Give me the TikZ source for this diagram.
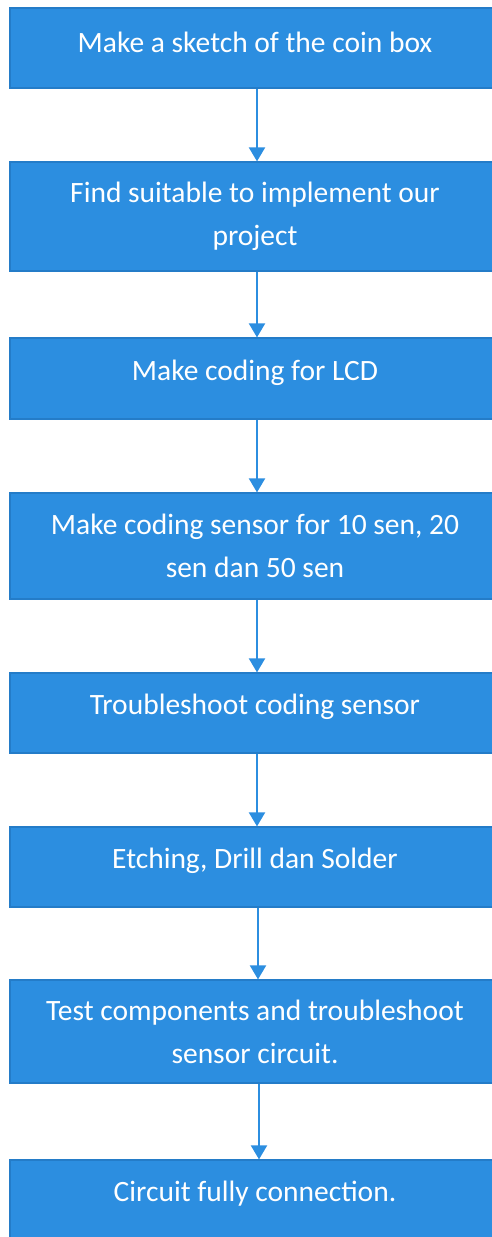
\documentclass[tikz,border=0pt]{standalone}
\usepackage{fontspec}
\setmainfont{Carlito}
\usetikzlibrary{arrows.meta}
\definecolor{boxblue}{RGB}{44,142,224}
\definecolor{boxedge}{RGB}{36,124,200}
\begin{document}
\begin{tikzpicture}[x=1pt,y=-1pt,
  stepbox/.style={draw=boxedge, line width=1.2pt, fill=boxblue, text=white,
    minimum width=490pt, align=center, inner sep=0pt,
    font=\fontsize{29.5}{41}\selectfont},
  oneline/.style={label={[text=white, font=\fontsize{29.5}{41}\selectfont, yshift=6pt]center:#1}},
  flow/.style={draw=boxblue, line width=2pt, -{Triangle[width=16pt,length=14pt]}}]
\useasboundingbox (0,0) rectangle (492,1237);
\begin{scope}
\clip (0,0) rectangle (492,1237);
\node[stepbox, minimum height=80pt, oneline={Make a sketch of the coin box}] (b1) at (255,48) {};
\node[stepbox, minimum height=109pt] (b2) at (255,216.5) {Find suitable to implement our\\[2pt]project};
\node[stepbox, minimum height=81pt, oneline={Make coding for LCD}] (b3) at (255,378.5) {};
\node[stepbox, minimum height=106pt] (b4) at (255,546) {Make coding sensor for 10 sen, 20\\[2pt]sen dan 50 sen};
\node[stepbox, minimum height=80pt, oneline={Troubleshoot coding sensor}] (b5) at (255,713) {};
\node[stepbox, minimum height=80pt, oneline={Etching, Drill dan Solder}] (b6) at (255,867) {};
\node[stepbox, minimum height=103pt] (b7) at (255,1031.5) {Test components and troubleshoot\\[2pt]sensor circuit.};
\node[stepbox, minimum height=80pt, oneline={Circuit fully connection.}] (b8) at (255,1200) {};
\end{scope}
\draw[flow] (b1.south -| 257,0) -- (b2.north -| 257,0);
\draw[flow] (b2.south -| 257,0) -- (b3.north -| 257,0);
\draw[flow] (b3.south -| 257,0) -- (b4.north -| 257,0);
\draw[flow] (b4.south -| 257,0) -- (b5.north -| 257,0);
\draw[flow] (b5.south -| 257,0) -- (b6.north -| 257,0);
\draw[flow] (b6.south -| 258,0) -- (b7.north -| 258,0);
\draw[flow] (b7.south -| 259,0) -- (b8.north -| 259,0);
\end{tikzpicture}
\end{document}
